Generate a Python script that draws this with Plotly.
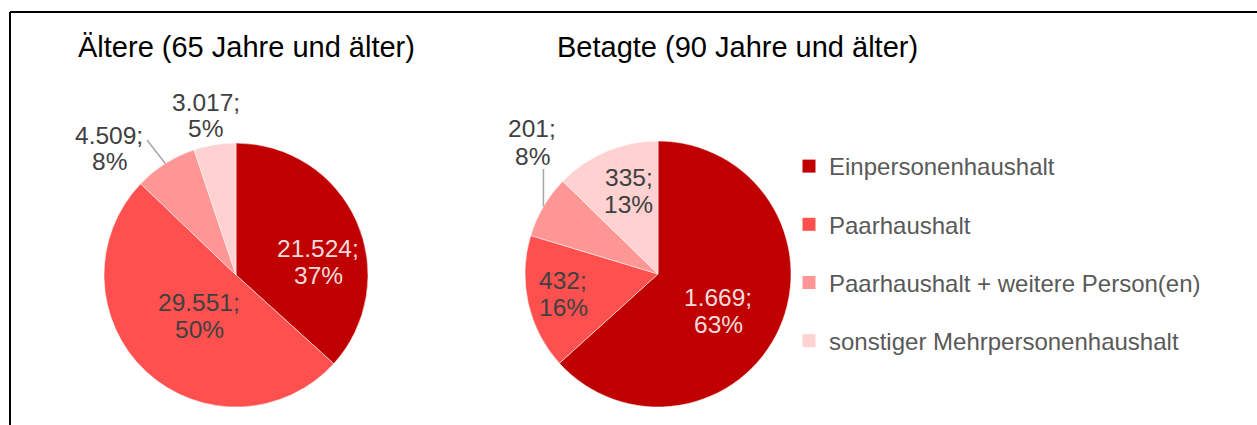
import math
import plotly.graph_objects as go

# ---------------- data ----------------
categories = ["Einpersonenhaushalt", "Paarhaushalt",
              "Paarhaushalt + weitere Person(en)", "sonstiger Mehrpersonenhaushalt"]
aeltere = [21524, 29551, 4509, 3017]
betagte = [1669, 432, 201, 335]
titles = ["Ältere (65 Jahre und älter)", "Betagte (90 Jahre und älter)"]
colors = ["#C00000", "#FF5050", "#FF9696", "#FFD1D1"]
text_colors = ["#F2DCDB", "#404040", "#404040", "#404040"]

# ---------------- layout geometry (screen pixels) ----------------
W, H = 1257, 425
OFF = 0                      # body margin removed via post_script
FW, FH = W - 2 * OFF, H - 2 * OFF
FONT = "Liberation Sans, Arial, sans-serif"
pies = [
    dict(values=aeltere, title=titles[0], cx=236, cy=275, r=132, title_x=246,
         label_off=[(82, -27), (-37, 27), (-127, -140), (-30, -173)],
         leader={2: (147 - 236, 140 - 275)}),
    dict(values=betagte, title=titles[1], cx=658, cy=274, r=133, title_x=737,
         label_off=[(60, 23), (-95, 6), (-126, -145), (-29, -97)],
         leader={2: (None, 169 - 274)}),
]
LINE_GAP = 27


def px(x):
    return (x - OFF) / FW


def py(y):
    return 1 - (y - OFF) / FH


def de_num(v):
    return f"{v:,}".replace(",", ".")


fig = go.Figure()
annotations = []
shapes = []

for p in pies:
    vals = p["values"]
    total = sum(vals)
    cx, cy, r = p["cx"], p["cy"], p["r"]
    fig.add_trace(go.Pie(
        values=vals, labels=categories, sort=False, direction="clockwise",
        rotation=0, marker=dict(colors=colors, line=dict(color="white", width=0.5)),
        textinfo="none", showlegend=False, hoverinfo="label+value+percent",
        domain=dict(x=[px(cx - r), px(cx + r)], y=[py(cy + r), py(cy - r)]),
    ))
    annotations.append(dict(text=p["title"], x=px(p["title_x"]), y=py(47),
                            xref="paper", yref="paper", showarrow=False,
                            xanchor="center", yanchor="middle",
                            font=dict(family=FONT, size=29, color="#000000")))
    cum = 0
    for i, v in enumerate(vals):
        frac = v / total
        mid = (cum + frac / 2) * 2 * math.pi
        cum += frac
        dx, dy = p["label_off"][i]
        lx, ly = cx + dx, cy + dy
        pct = f"{round(frac * 100):d}%"
        for k, t in enumerate([de_num(v) + ";", pct]):
            annotations.append(dict(text=t, x=px(lx), y=py(ly + k * LINE_GAP),
                                    xref="paper", yref="paper", showarrow=False,
                                    xanchor="center", yanchor="middle",
                                    font=dict(family=FONT, size=24.5, color=text_colors[i])))
        if i in p["leader"]:
            ex = cx + r * math.sin(mid)
            ey = cy - r * math.cos(mid)
            sx, sy = p["leader"][i]
            sx = ex if sx is None else cx + sx
            sy = cy + sy
            shapes.append(dict(type="line", xref="paper", yref="paper",
                               x0=px(sx), y0=py(sy), x1=px(ex), y1=py(ey),
                               line=dict(color="#A6A6A6", width=1.5)))

# legend entries
for cat, col in zip(categories, colors):
    fig.add_trace(go.Scatter(x=[None], y=[None], mode="markers", name=cat,
                             legendgroup=cat, showlegend=True, hoverinfo="skip",
                             marker=dict(symbol="square", size=13, color=col)))

# frame lines
shapes.append(dict(type="line", xref="paper", yref="paper", x0=px(10), y0=py(12),
                   x1=1, y1=py(12), line=dict(color="black", width=2)))
shapes.append(dict(type="line", xref="paper", yref="paper", x0=px(10), y0=py(12),
                   x1=px(10), y1=0, line=dict(color="black", width=2)))

fig.update_layout(
    width=FW, height=FH, margin=dict(l=0, r=0, t=0, b=0),
    paper_bgcolor="white", plot_bgcolor="white",
    xaxis=dict(visible=False), yaxis=dict(visible=False),
    annotations=annotations, shapes=shapes,
    legend=dict(x=px(789), y=py(144), xanchor="left", yanchor="top",
                font=dict(family=FONT, size=24, color="#595959"),
                tracegroupgap=24, bgcolor="rgba(0,0,0,0)", itemclick=False),
    font=dict(family=FONT),
)

fig.write_html(
    "out.html",
    config={"displayModeBar": False},
    post_script="document.body.style.margin='0';document.body.style.overflow='hidden';",
)
